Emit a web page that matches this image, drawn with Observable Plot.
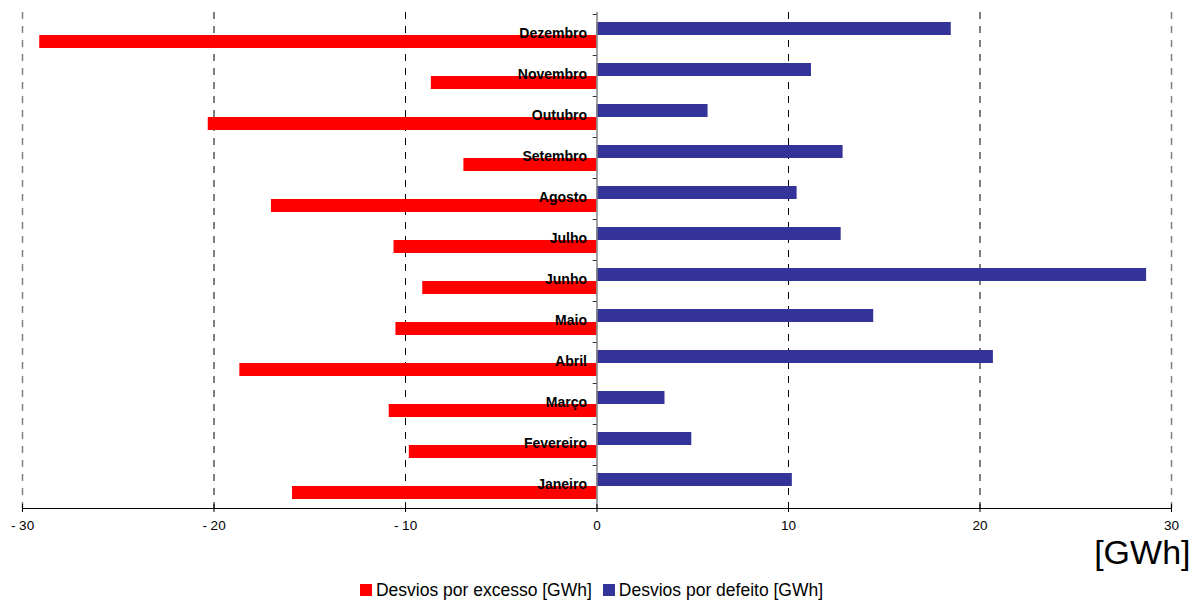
<!DOCTYPE html>
<html>
<head>
<meta charset="utf-8">
<script src="https://cdn.jsdelivr.net/npm/d3@7"></script>
<script src="https://cdn.jsdelivr.net/npm/@observablehq/plot@0.6"></script>
<style>
  body { margin: 0; background: #fff; font-family: "Liberation Sans", Arial, sans-serif; }
  #legend { display: flex; justify-content: center; align-items: center; gap: 11px;
            margin-top: 8px; font-size: 17.5px; line-height: 20px; color: #000; padding-right: 16px; }
  #legend .item { display: flex; align-items: center; gap: 4px; }
  #legend .sw { width: 12px; height: 12px; display: inline-block; }
</style>
</head>
<body>
<div id="chart"></div>
<div id="legend"></div>
<script>
// Monthly deviations, January to December
const months = ["Janeiro", "Fevereiro", "Março", "Abril", "Maio", "Junho",
                "Julho", "Agosto", "Setembro", "Outubro", "Novembro", "Dezembro"];
const excesso = [-15.9, -9.8, -10.85, -18.65, -10.5, -9.1, -10.6, -17.0, -6.95, -20.3, -8.65, -29.1];
const defeito = [10.2, 4.95, 3.55, 20.7, 14.45, 28.7, 12.75, 10.45, 12.85, 5.8, 11.2, 18.5];
const xTicks = [-30, -20, -10, 0, 10, 20, 30];
const seriesNames = ["Desvios por excesso [GWh]", "Desvios por defeito [GWh]"];
const colors = ["#ff0000", "#333399"];
const unitLabel = "[GWh]";

const rows = months.map((m, i) => ({month: m, excesso: excesso[i], defeito: defeito[i]}));
const fmt = d => d < 0 ? "- " + (-d) : String(d);

const chart = Plot.plot({
  width: 1199,
  height: 572,
  marginLeft: 22,
  marginRight: 28,
  marginTop: 12,
  marginBottom: 64,
  style: {fontFamily: "'Liberation Sans', Arial, sans-serif", fontSize: "13px", background: "#fff"},
  x: {domain: [-30, 30], axis: null},
  y: {type: "band", domain: months.slice().reverse(), padding: 0, axis: null},
  marks: [
    // dashed vertical gridlines
    Plot.ruleX(xTicks.filter(d => Math.abs(d) === 30), {stroke: "#808080", strokeDasharray: "7,7", strokeWidth: 1.5}),
    Plot.ruleX(xTicks.filter(d => d !== 0 && Math.abs(d) !== 30), {stroke: "#000", strokeDasharray: "7,7"}),
    // bars
    Plot.barX(rows, {x1: 0, x2: "defeito", y: "month", fill: colors[1], insetTop: 8, insetBottom: 20}),
    Plot.barX(rows, {x1: 0, x2: "excesso", y: "month", fill: colors[0], insetTop: 21, insetBottom: 7}),
    // category axis along zero with small ticks at band edges
    Plot.ruleX([0], {stroke: "#808080", strokeWidth: 1.5}),
    Plot.barX(months, {y: d => d, x1: 0, x2: -0.2, fill: "#333", insetBottom: 40}),
    Plot.text(rows, {x: 0, y: "month", text: "month", textAnchor: "end", dx: -10, dy: -1,
                     fontSize: 14, fontWeight: "bold", fill: "#000"}),
    // bottom value axis: baseline, crossing ticks and labels
    Plot.frame({anchor: "bottom", stroke: "#000"}),
    Plot.axisX(xTicks, {tickSize: 4, tickFormat: () => "", label: null, stroke: "#000"}),
    Plot.axisX(xTicks, {tickSize: 4, dy: -4, tickFormat: () => "", label: null, stroke: "#000"}),
    Plot.text(xTicks, {x: d => d, frameAnchor: "bottom", text: fmt, dy: 21, fontSize: 13.5, fill: "#000"}),
    Plot.text([unitLabel], {frameAnchor: "bottom-right", textAnchor: "end", dx: 19, dy: 55, fontSize: 34, fill: "#000"})
  ]
});
document.getElementById("chart").appendChild(chart);

// legend below the chart
const legend = document.getElementById("legend");
seriesNames.forEach((name, i) => {
  const item = document.createElement("span");
  item.className = "item";
  const sw = document.createElement("span");
  sw.className = "sw";
  sw.style.background = colors[i];
  item.appendChild(sw);
  item.appendChild(document.createTextNode(name));
  legend.appendChild(item);
});
</script>
</body>
</html>
